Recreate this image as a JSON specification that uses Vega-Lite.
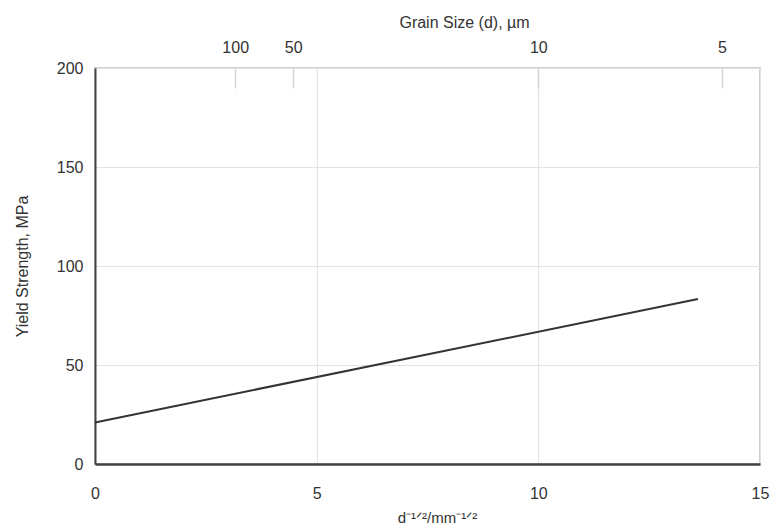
{
  "$schema": "https://vega.github.io/schema/vega-lite/v6.json",
  "autosize": "none",
  "width": 665,
  "height": 396,
  "padding": {"left": 95, "top": 68, "right": 10, "bottom": 67},
  "background": "white",
  "config": {
    "font": "Liberation Sans",
    "view": {"stroke": "#cfcfcf", "strokeWidth": 2},
    "axis": {
      "labelFont": "Liberation Sans",
      "titleFont": "Liberation Sans",
      "labelFontSize": 16,
      "titleFontSize": 16,
      "labelColor": "#333333",
      "titleColor": "#333333",
      "titleFontWeight": "normal",
      "gridColor": "#e3e3e3",
      "gridWidth": 1.2
    }
  },
  "data": {"values": [
    {"x": 0, "y": 21},
    {"x": 13.6, "y": 83.3}
  ]},
  "layer": [
    {
      "mark": {"type": "line", "color": "#333333", "strokeWidth": 2},
      "encoding": {
        "x": {
          "field": "x", "type": "quantitative",
          "scale": {"domain": [0, 15], "nice": false},
          "axis": {
            "orient": "bottom",
            "values": [0, 5, 10, 15],
            "title": "d⁻¹ᐟ²/mm⁻¹ᐟ²",
            "titleFontSize": 15,
            "titlePadding": 9,
            "titleX": 342,
            "ticks": false,
            "labelPadding": 21,
            "domainColor": "#444444",
            "domainWidth": 2.5,
            "grid": true,
            "labelFlush": false
          }
        },
        "y": {
          "field": "y", "type": "quantitative",
          "scale": {"domain": [0, 200], "nice": false},
          "axis": {
            "values": [0, 50, 100, 150, 200],
            "title": "Yield Strength, MPa",
            "titlePadding": 26,
            "ticks": false,
            "labelPadding": 12,
            "domainColor": "#444444",
            "domainWidth": 2,
            "grid": true
          }
        }
      }
    },
    {
      "mark": {"type": "point", "opacity": 0},
      "encoding": {
        "x": {
          "field": "x", "type": "quantitative",
          "axis": {
            "orient": "top",
            "values": [3.1623, 4.4721, 10, 14.1421],
            "labelExpr": "format(1000/(datum.value*datum.value), '.0f')",
            "title": "Grain Size (d), µm",
            "titlePadding": 9,
            "titleX": 369,
            "tickSize": -20,
            "tickColor": "#d5d5d5",
            "tickWidth": 1.5,
            "labelPadding": 33,
            "domain": false,
            "grid": false,
            "labelFlush": false
          }
        },
        "y": {"field": "y", "type": "quantitative"}
      }
    }
  ],
  "resolve": {"axis": {"x": "independent"}}
}
